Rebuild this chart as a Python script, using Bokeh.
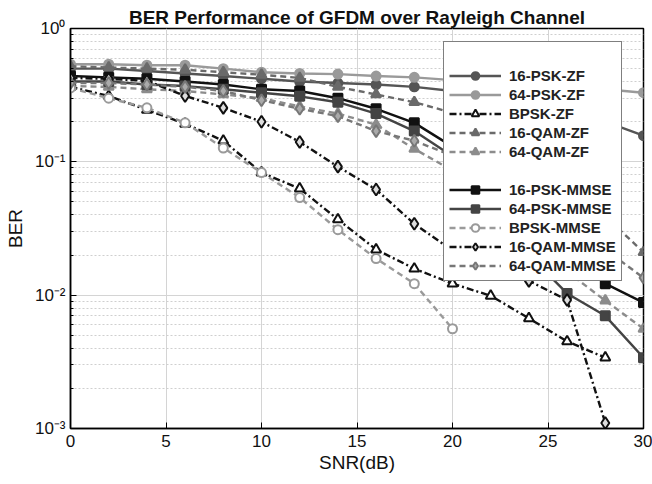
from bokeh.plotting import figure
from bokeh.models import FixedTicker, Legend, LegendItem, CustomJSTickFormatter
from bokeh.embed import file_html
from bokeh.resources import INLINE

# ---------------- data ----------------
snr = [0, 2, 4, 6, 8, 10, 12, 14, 16, 18, 20, 22, 24, 26, 28, 30]
snr_28 = [0, 2, 4, 6, 8, 10, 12, 14, 16, 18, 20, 22, 24, 26, 28]
snr_20 = [0, 2, 4, 6, 8, 10, 12, 14, 16, 18, 20]

psk16_zf = [0.50, 0.50, 0.48, 0.46, 0.44, 0.42, 0.40, 0.39, 0.38, 0.365, 0.34, 0.31, 0.27, 0.23, 0.20, 0.157]
psk64_zf = [0.54, 0.54, 0.53, 0.53, 0.50, 0.47, 0.46, 0.455, 0.44, 0.43, 0.41, 0.39, 0.37, 0.36, 0.35, 0.33]
bpsk_zf = [0.365, 0.312, 0.245, 0.193, 0.144, 0.083, 0.063, 0.037, 0.022, 0.0158, 0.0122, 0.0099, 0.0067, 0.0045, 0.0034]
qam16_zf = [0.52, 0.51, 0.50, 0.49, 0.47, 0.45, 0.426, 0.365, 0.32, 0.28, 0.233, 0.177, 0.121, 0.072, 0.039, 0.021]
qam64_zf = [0.37, 0.365, 0.35, 0.34, 0.32, 0.30, 0.26, 0.23, 0.19, 0.125, 0.086, 0.049, 0.028, 0.015, 0.0091, 0.0056]
psk16_mmse = [0.44, 0.43, 0.42, 0.40, 0.38, 0.35, 0.34, 0.30, 0.25, 0.196, 0.13, 0.079, 0.043, 0.022, 0.0122, 0.0088]
psk64_mmse = [0.40, 0.40, 0.38, 0.37, 0.35, 0.33, 0.31, 0.28, 0.23, 0.17, 0.11, 0.056, 0.020, 0.0103, 0.0070, 0.0034]
bpsk_mmse = [0.358, 0.30, 0.254, 0.196, 0.127, 0.083, 0.054, 0.031, 0.0188, 0.0122, 0.0056]
qam16_mmse = [0.426, 0.419, 0.405, 0.312, 0.254, 0.20, 0.141, 0.092, 0.062, 0.0343, 0.0216, 0.0166, 0.0128, 0.0092, 0.0011]
qam64_mmse = [0.39, 0.39, 0.38, 0.365, 0.34, 0.29, 0.25, 0.22, 0.17, 0.144, 0.111, 0.079, 0.049, 0.033, 0.022, 0.0135]

x_ticks = [0, 5, 10, 15, 20, 25, 30]

FONT = "Liberation Sans"

p = figure(width=652, height=484, y_axis_type="log", x_range=(0, 30), y_range=(1e-3, 1),
           output_backend="svg", toolbar_location=None,
           min_border_left=70, min_border_right=9, min_border_top=28, min_border_bottom=56)
p.background_fill_color = "white"
p.border_fill_color = "white"
p.outline_line_color = "black"
p.outline_line_width = 1.5
p.outline_line_alpha = 1

p.title.text = "BER Performance of GFDM over Rayleigh Channel"
p.title.text_font = FONT
p.title.text_font_size = "19px"
p.title.text_font_style = "bold"
p.title.text_color = "#111111"
p.title.align = "center"
p.title.standoff = 2

# axes
p.xaxis.ticker = FixedTicker(ticks=x_ticks)
p.xaxis.axis_label = "SNR(dB)"
p.yaxis.axis_label = "BER"
p.yaxis.formatter = CustomJSTickFormatter(code=r"""
const e = Math.round(Math.log10(tick));
const sup = {'0':'\u2070','1':'\u00b9','2':'\u00b2','3':'\u00b3','-':'\u207b'};
return '10' + String(e).split('').map(c => sup[c]).join('');
""")
for ax in (p.xaxis[0], p.yaxis[0]):
    ax.axis_label_text_font = FONT
    ax.axis_label_text_font_size = "19px"
    ax.axis_label_text_font_style = "normal"
    ax.axis_label_text_color = "#111111"
    ax.major_label_text_font = FONT
    ax.major_label_text_font_size = "17px"
    ax.major_label_text_color = "#111111"
    ax.major_tick_in = 6
    ax.major_tick_out = 0
    ax.minor_tick_in = 3
    ax.minor_tick_out = 0
    ax.axis_line_width = 1.5
p.xaxis.major_label_standoff = 6
p.xaxis.axis_label_standoff = 2
p.yaxis.major_label_standoff = 5
p.yaxis.axis_label_standoff = 6
p.xaxis.minor_tick_in = 0

# grids
p.xgrid.ticker = FixedTicker(ticks=x_ticks)
p.xgrid.grid_line_color = "#d4d4d4"
p.ygrid.grid_line_color = "#d4d4d4"
p.ygrid.minor_grid_line_color = "#cfcfcf"
p.ygrid.minor_grid_line_dash = "2 2"

DASH = "6 4"
DASHDOT = "7 3 2 3"

series = [
    ("16-PSK-ZF", snr, psk16_zf, "#555555", "solid", "circle", "#555555", 9),
    ("64-PSK-ZF", snr, psk64_zf, "#9a9a9a", "solid", "circle", "#9a9a9a", 9),
    ("BPSK-ZF", snr_28, bpsk_zf, "#111111", DASHDOT, "triangle", "white", 10),
    ("16-QAM-ZF", snr, qam16_zf, "#6a6a6a", DASH, "triangle", "#6a6a6a", 10),
    ("64-QAM-ZF", snr, qam64_zf, "#8c8c8c", DASH, "triangle", "#8c8c8c", 10),
    ("16-PSK-MMSE", snr, psk16_mmse, "#111111", "solid", "square", "#111111", 9),
    ("64-PSK-MMSE", snr, psk64_mmse, "#444444", "solid", "square", "#444444", 9),
    ("BPSK-MMSE", snr_20, bpsk_mmse, "#9a9a9a", DASH, "circle", "white", 9),
    ("16-QAM-MMSE", snr_28, qam16_mmse, "#111111", DASHDOT, "diamond", "#dddddd", 12),
    ("64-QAM-MMSE", snr, qam64_mmse, "#777777", DASH, "diamond", "#aaaaaa", 12),
]

items = []
blank_a = p.line(x=[1], y=[0.5], line_alpha=0, visible=True)
blank_b = p.line(x=[1], y=[0.5], line_alpha=0, visible=True)
items.append(LegendItem(label="\u00a0", renderers=[blank_a]))
for i, (name, xs, ys, col, dash, mk, fill, sz) in enumerate(series):
    ln = p.line(xs, ys, line_color=col, line_width=2.4, line_dash=dash)
    sc = p.scatter(xs, ys, marker=mk, size=sz, line_color=col, line_width=2, fill_color=fill)
    if i == 5:
        items.append(LegendItem(label="\u00a0", renderers=[blank_b]))
    items.append(LegendItem(label=name, renderers=[ln, sc]))

legend = Legend(items=items, location=(373, 147))
legend.label_text_font = FONT
legend.label_text_font_size = "15px"
legend.label_text_font_style = "bold"
legend.label_text_color = "#222222"
legend.glyph_width = 52
legend.glyph_height = 19
legend.label_height = 19
legend.label_standoff = 8
legend.spacing = 0
legend.padding = 5
legend.margin = 0
legend.border_line_color = "black"
legend.border_line_width = 1.5
legend.background_fill_alpha = 1
p.add_layout(legend)

open("out.html", "w", encoding="utf-8").write(file_html(p, INLINE))
